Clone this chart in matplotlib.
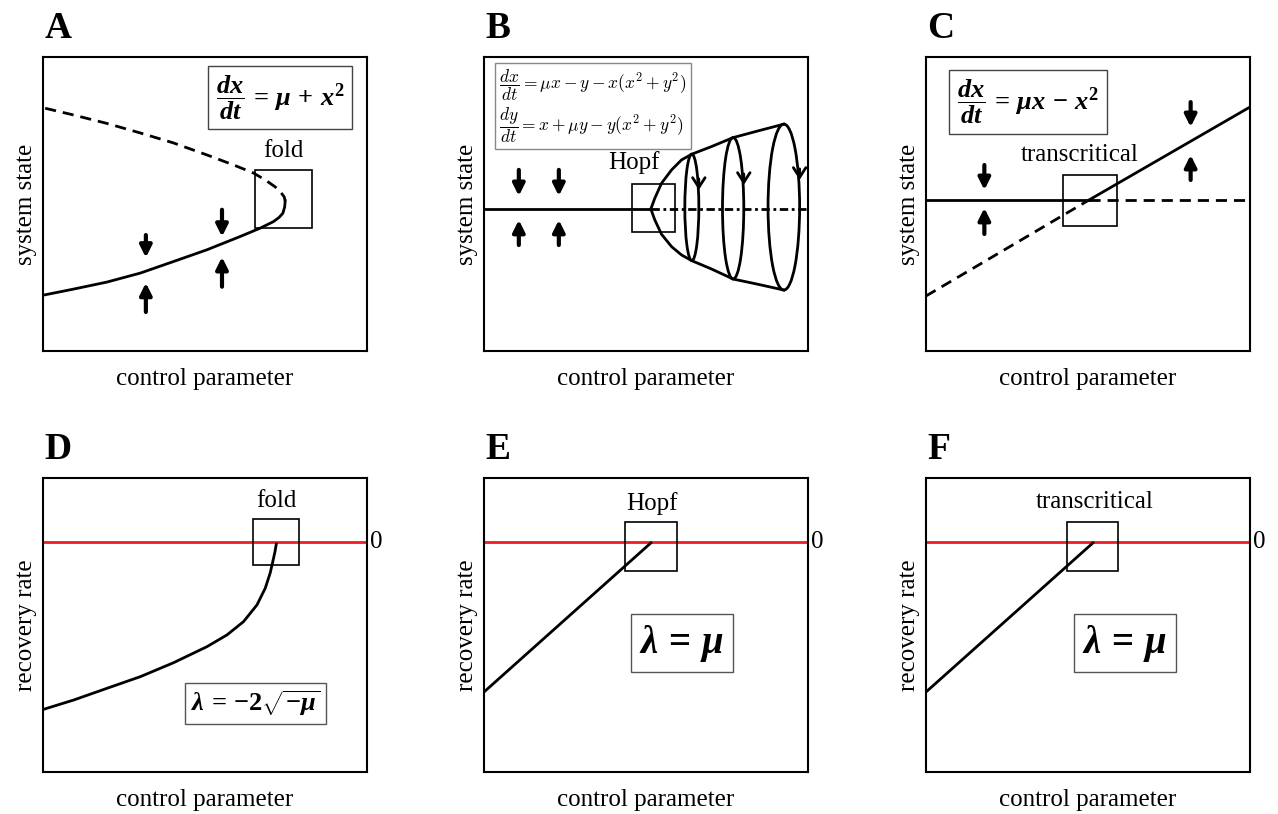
import matplotlib
matplotlib.use("Agg")
import matplotlib.pyplot as plt
from matplotlib.patches import Rectangle, Ellipse

plt.rcParams["font.family"] = "serif"
plt.rcParams["font.serif"] = ["Liberation Serif", "DejaVu Serif"]
plt.rcParams["mathtext.fontset"] = "custom"
plt.rcParams["mathtext.rm"] = "Liberation Serif:bold"
plt.rcParams["mathtext.it"] = "Liberation Serif:italic:bold"
plt.rcParams["mathtext.bf"] = "Liberation Serif:bold"

# ---- panel A: fold (state x vs control mu) ----
fold_mu_upper = [-2.963, -2.614, -2.201, -1.790, -1.379, -0.967, -0.638, -0.395,
                 -0.247, -0.123, -0.049, -0.012, 0.0]
fold_x_upper = [1.667, 1.545, 1.391, 1.218, 1.036, 0.818, 0.636, 0.491,
                0.364, 0.236, 0.127, 0.055, -0.018]
fold_mu_lower = [0.0, -0.006, -0.028, -0.074, -0.144, -0.309, -0.556, -0.967,
                 -1.379, -1.790, -2.201, -2.614, -2.963]
fold_x_lower = [-0.018, -0.127, -0.242, -0.318, -0.395, -0.515, -0.667, -0.909,
                -1.122, -1.333, -1.496, -1.624, -1.727]
fold_arrow_mu = [-1.72, -0.78]
fold_down_from = [-0.64, -0.18]
fold_down_to = [-1.05, -0.67]
fold_up_from = [-2.04, -1.58]
fold_up_to = [-1.51, -1.04]

# ---- panel B: Hopf ----
hopf_mu_env = [0.0, 0.049, 0.132, 0.256, 0.379, 0.506, 0.749, 1.016, 1.325, 1.642]
hopf_y_upper = [0.0, 0.195, 0.467, 0.709, 0.891, 0.995, 1.133, 1.296, 1.418, 1.540]
hopf_y_lower = [0.0, -0.200, -0.460, -0.685, -0.836, -0.940, -1.091, -1.273, -1.369, -1.473]
cycle_mu = [0.506, 1.016, 1.642]
cycle_height = [1.935, 2.569, 3.013]
cycle_width = [0.173, 0.263, 0.39]
cycle_center = [0.028, 0.012, 0.034]
cycle_arrow_y = [0.345, 0.436, 0.527]
hopf_arrow_mu = [-1.63, -1.136]
hopf_down = (0.709, 0.236)
hopf_up = (-0.655, -0.20)

# ---- panel C: transcritical ----
tc_mu = [-2.0, 0.0, 1.975]
tc_diag = [-1.745, 0.0, 1.69]
tc_arrow_mu = [-1.284, 1.247]
tc_down_from = [0.636, 1.78]
tc_down_to = [0.182, 1.327]
tc_up_from = [-0.618, 0.364]
tc_up_to = [-0.145, 0.818]

# ---- panel D: recovery rate near fold ----
rate_fold_mu = [-2.873, -2.502, -2.090, -1.679, -1.268, -0.856, -0.609, -0.404,
                -0.238, -0.136, -0.074, -0.040, -0.016, 0.0]
rate_fold_lam = [-3.042, -2.873, -2.660, -2.449, -2.195, -1.904, -1.691, -1.449,
                 -1.145, -0.842, -0.560, -0.340, -0.180, -0.042]

# ---- panels E, F: linear recovery rate ----
rate_hopf_mu = [-2.06, 0.0]
rate_hopf_lam = [-2.727, -0.02]
rate_tc_mu = [-2.05, 0.0]
rate_tc_lam = [-2.727, -0.02]

LW = 2.0
W, H = 0.2535, 0.3612
fig = plt.figure(figsize=(12.78, 8.14), dpi=100)
axA = fig.add_axes([43 / 1278, 0.5688, W, H])
axB = fig.add_axes([484 / 1278, 0.5688, W, H])
axC = fig.add_axes([926 / 1278, 0.5688, W, H])
axD = fig.add_axes([43 / 1278, 0.0516, W, H])
axE = fig.add_axes([484 / 1278, 0.0516, W, H])
axF = fig.add_axes([926 / 1278, 0.0516, W, H])


def setup(ax, letter, ylabel):
    ax.set_xticks([])
    ax.set_yticks([])
    for s in ax.spines.values():
        s.set_linewidth(1.5)
    ax.set_xlabel("control parameter", fontsize=18, labelpad=12)
    ax.set_ylabel(ylabel, fontsize=18, labelpad=4)
    ax.text(0.005, 1.065, letter, transform=ax.transAxes, fontsize=27,
            fontweight="bold", ha="left", va="baseline")


def arrow(ax, x, y0, y1):
    ax.annotate("", xy=(x, y1), xytext=(x, y0),
                arrowprops=dict(arrowstyle="-|>,head_length=0.7,head_width=0.35",
                                lw=3, color="black", shrinkA=0, shrinkB=0))


def box(ax, x0, x1, y0, y1):
    ax.add_patch(Rectangle((x0, y0), x1 - x0, y1 - y0, fill=False,
                           lw=1.2, ec="black", zorder=3))


# A
setup(axA, "A", "system state")
axA.set_xlim(-2.99, 1.01)
axA.set_ylim(-2.75, 2.6)
axA.plot(fold_mu_upper, fold_x_upper, color="black", lw=LW, ls=(0, (4, 2.5)))
axA.plot(fold_mu_lower, fold_x_lower, color="black", lw=LW)
for i, m in enumerate(fold_arrow_mu):
    arrow(axA, m, fold_down_from[i], fold_down_to[i])
    arrow(axA, m, fold_up_from[i], fold_up_to[i])
box(axA, -0.37, 0.33, -0.51, 0.545)
axA.text(-0.02, 0.89, "fold", fontsize=18, ha="center", va="center")
axA.text(-0.062, 1.864, r"$\dfrac{dx}{dt}\,=\,\mu\,+\,x^2$", fontsize=19,
         ha="center", va="center",
         bbox=dict(boxstyle="square,pad=0.28", fc="white", ec="#444444", lw=1))

# B
setup(axB, "B", "system state")
axB.set_xlim(-2.06, 1.94)
axB.set_ylim(-2.58, 2.76)
axB.plot([-2.06, 0.0], [0, 0], color="black", lw=LW)
axB.plot([0.0, 1.94], [0, 0], color="black", lw=LW, ls=(0, (3, 1.3, 1, 1.3)))
axB.plot(hopf_mu_env, hopf_y_upper, color="black", lw=LW)
axB.plot(hopf_mu_env, hopf_y_lower, color="black", lw=LW)
for i, m in enumerate(cycle_mu):
    axB.add_patch(Ellipse((m, cycle_center[i]), cycle_width[i], cycle_height[i],
                          fill=False, lw=LW, ec="black"))
    xr = m + cycle_width[i] / 2
    axB.annotate("", xy=(xr, cycle_arrow_y[i]), xytext=(xr, cycle_arrow_y[i] + 0.2),
                 arrowprops=dict(arrowstyle="->,head_length=0.7,head_width=0.45",
                                 lw=LW, color="black", shrinkA=0, shrinkB=0))
for m in hopf_arrow_mu:
    arrow(axB, m, hopf_down[0], hopf_down[1])
    arrow(axB, m, hopf_up[0], hopf_up[1])
box(axB, -0.235, 0.296, -0.418, 0.455)
axB.text(-0.21, 0.836, "Hopf", fontsize=18, ha="center", va="center")
axB.text(-1.87, 1.87,
         r"$\dfrac{dx}{dt} = \mu x - y - x(x^2 + y^2)$" + "\n"
         + r"$\dfrac{dy}{dt} = x + \mu y - y(x^2 + y^2)$",
         fontsize=12.5, ha="left", va="center", math_fontfamily="cm",
         linespacing=1.1,
         bbox=dict(boxstyle="square,pad=0.25", fc="white", ec="#888888", lw=1))

# C
setup(axC, "C", "system state")
axC.set_xlim(-2.0, 1.975)
axC.set_ylim(-2.745, 2.6)
axC.plot([tc_mu[0], tc_mu[1]], [0, 0], color="black", lw=LW)
axC.plot([tc_mu[1], tc_mu[2]], [0, 0], color="black", lw=LW, ls=(0, (4, 2.5)))
axC.plot(tc_mu[:2], tc_diag[:2], color="black", lw=LW, ls=(0, (4, 2.5)))
axC.plot(tc_mu[1:], tc_diag[1:], color="black", lw=LW)
for i, m in enumerate(tc_arrow_mu):
    arrow(axC, m, tc_down_from[i], tc_down_to[i])
    arrow(axC, m, tc_up_from[i], tc_up_to[i])
box(axC, -0.321, 0.346, -0.473, 0.455)
axC.text(-0.111, 0.818, "transcritical", fontsize=18, ha="center", va="center")
axC.text(-0.747, 1.78, r"$\dfrac{dx}{dt}\,=\,\mu x\,-\,x^2$", fontsize=19,
         ha="center", va="center",
         bbox=dict(boxstyle="square,pad=0.3", fc="white", ec="#444444", lw=1))


def rate_panel(ax, letter, xlim):
    setup(ax, letter, "recovery rate")
    ax.set_xlim(*xlim)
    ax.set_ylim(-4.18, 1.16)
    ax.axhline(0, color="#ee1d23", lw=2)
    ax.text(1.01, 0, "0", transform=ax.get_yaxis_transform(), fontsize=18,
            ha="left", va="center")


# D
rate_panel(axD, "D", (-2.88, 1.12))
axD.plot(rate_fold_mu, rate_fold_lam, color="black", lw=LW)
box(axD, -0.284, 0.284, -0.418, 0.418)
axD.text(0.0, 0.745, "fold", fontsize=18, ha="center", va="center")
axD.text(-0.253, -2.93, r"$\lambda\,=\,{-2}\sqrt{-\mu}$", fontsize=19,
         ha="center", va="center",
         bbox=dict(boxstyle="square,pad=0.22", fc="white", ec="#555555", lw=1))

# E
rate_panel(axE, "E", (-2.06, 1.94))
axE.plot(rate_hopf_mu, rate_hopf_lam, color="black", lw=LW)
box(axE, -0.321, 0.321, -0.527, 0.364)
axE.text(0.01, 0.69, "Hopf", fontsize=18, ha="center", va="center")
axE.text(0.383, -1.845, r"$\lambda\,=\,\mu$", fontsize=28,
         ha="center", va="center",
         bbox=dict(boxstyle="square,pad=0.22", fc="white", ec="#555555", lw=1))

# F
rate_panel(axF, "F", (-2.05, 1.93))
axF.plot(rate_tc_mu, rate_tc_lam, color="black", lw=LW)
box(axF, -0.32, 0.31, -0.527, 0.364)
axF.text(0.02, 0.73, "transcritical", fontsize=18, ha="center", va="center")
axF.text(0.395, -1.84, r"$\lambda\,=\,\mu$", fontsize=28,
         ha="center", va="center",
         bbox=dict(boxstyle="square,pad=0.22", fc="white", ec="#555555", lw=1))

fig.savefig("out.png", dpi=100)
